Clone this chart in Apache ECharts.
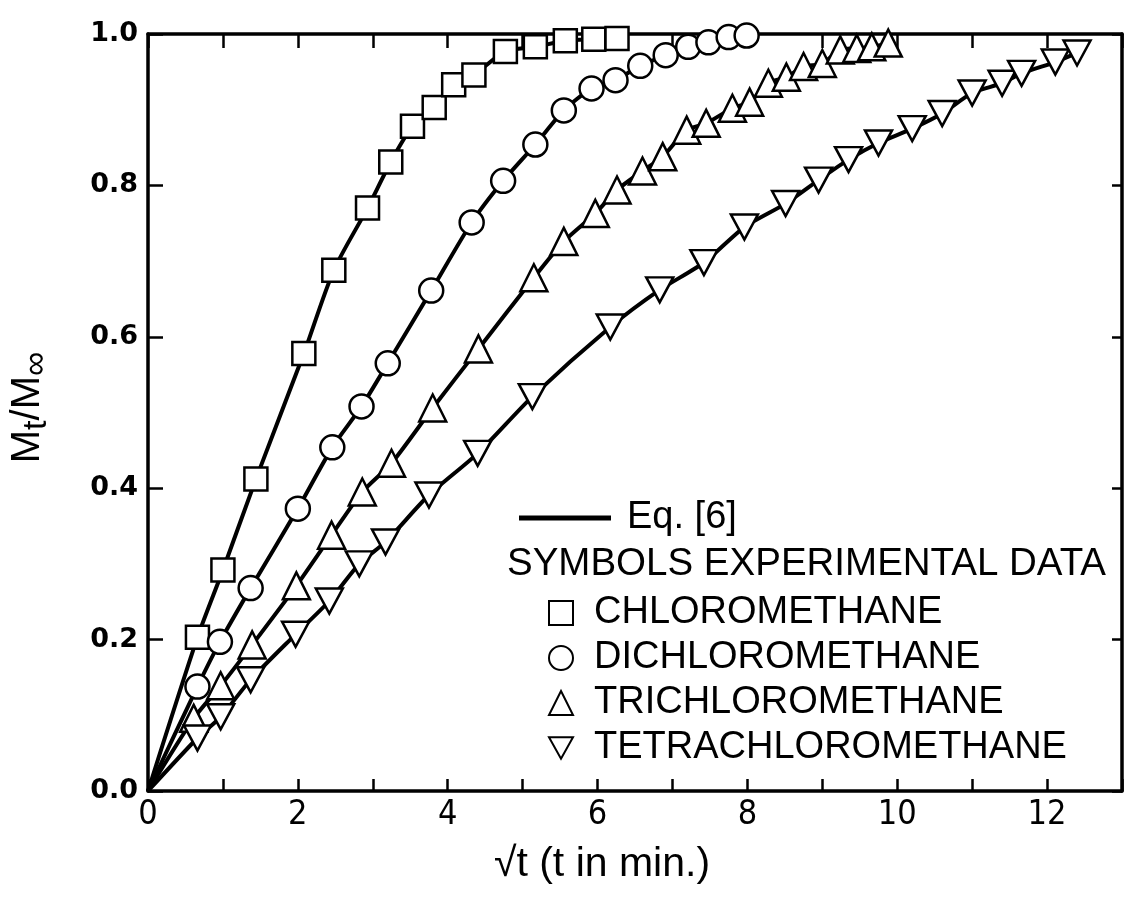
<!DOCTYPE html>
<html>
<head>
<meta charset="utf-8">
<script src="https://cdn.jsdelivr.net/npm/echarts@6/dist/echarts.min.js"></script>
<style>
html,body{margin:0;padding:0;background:#fff;}
#chart{width:1125px;height:901px;}
</style>
</head>
<body>
<div id="chart"></div>
<script>
// ---- data: x = sqrt(t), y = Mt/Minf ----
const chloroX = [0.66, 1.00, 1.44, 2.08, 2.48, 2.93, 3.24, 3.53, 3.82, 4.08, 4.35, 4.77, 5.17, 5.57, 5.95, 6.26];
const chloroY = [0.203, 0.292, 0.412, 0.578, 0.688, 0.770, 0.831, 0.878, 0.903, 0.933, 0.946, 0.977, 0.983, 0.991, 0.993, 0.994];

const dichloroX = [0.66, 0.96, 1.37, 2.00, 2.46, 2.85, 3.20, 3.78, 4.32, 4.74, 5.17, 5.55, 5.92, 6.24, 6.57, 6.91, 7.21, 7.48, 7.75, 7.99];
const dichloroY = [0.138, 0.197, 0.268, 0.373, 0.454, 0.508, 0.565, 0.661, 0.751, 0.806, 0.854, 0.899, 0.928, 0.939, 0.958, 0.972, 0.983, 0.989, 0.996, 0.998];

const trichloroX = [0.61, 0.97, 1.39, 1.98, 2.45, 2.86, 3.25, 3.80, 4.41, 5.15, 5.55, 5.97, 6.26, 6.60, 6.87, 7.19, 7.45, 7.80, 8.03, 8.28, 8.52, 8.75, 9.00, 9.24, 9.46, 9.66, 9.88];
const trichloroY = [0.096, 0.139, 0.193, 0.271, 0.338, 0.395, 0.433, 0.506, 0.584, 0.678, 0.726, 0.763, 0.794, 0.819, 0.838, 0.873, 0.882, 0.902, 0.910, 0.935, 0.943, 0.957, 0.961, 0.979, 0.981, 0.983, 0.988];

const tetrachloroX = [0.66, 0.97, 1.37, 1.97, 2.42, 2.82, 3.17, 3.75, 4.40, 5.13, 6.17, 6.83, 7.42, 7.96, 8.51, 8.95, 9.35, 9.75, 10.20, 10.60, 11.00, 11.40, 11.66, 12.11, 12.40];
const tetrachloroY = [0.070, 0.098, 0.147, 0.207, 0.251, 0.300, 0.329, 0.391, 0.446, 0.521, 0.613, 0.662, 0.698, 0.745, 0.776, 0.807, 0.834, 0.856, 0.875, 0.895, 0.922, 0.935, 0.948, 0.963, 0.975];

const seriesNames = ['CHLOROMETHANE', 'DICHLOROMETHANE', 'TRICHLOROMETHANE', 'TETRACHLOROMETHANE'];
const curveName = 'Eq. [6]';
const headerText = 'SYMBOLS EXPERIMENTAL DATA';
const xTickLabels = ['0', '2', '4', '6', '8', '10', '12'];
const yTickLabels = ['0.0', '0.2', '0.4', '0.6', '0.8', '1.0'];

// ---- build ----
const pairs = (xs, ys) => xs.map((x, i) => [x, ys[i]]);
const groups = [
  {name: seriesNames[0], data: pairs(chloroX, chloroY), symbol: 'rect', size: 23},
  {name: seriesNames[1], data: pairs(dichloroX, dichloroY), symbol: 'circle', size: 24},
  {name: seriesNames[2], data: pairs(trichloroX, trichloroY), symbol: 'triangle', size: 27},
  {name: seriesNames[3], data: pairs(tetrachloroX, tetrachloroY), symbol: 'path://M0,0 L20,0 L10,18 Z', size: [27, 25]}
];

const INK = '#000';
const narrow = "'Liberation Sans Narrow', 'DejaVu Sans Condensed', 'Liberation Sans', sans-serif";
const sans = "'Liberation Sans', Arial, sans-serif";

const series = [];
groups.forEach(g => {
  series.push({
    name: curveName, type: 'line', data: [[0, 0]].concat(g.data),
    showSymbol: false, symbol: 'none', smooth: 0.25,
    lineStyle: {color: INK, width: 4}, itemStyle: {color: INK},
    z: 2, silent: true
  });
});
groups.forEach(g => {
  series.push({
    name: g.name, type: 'scatter', data: g.data,
    symbol: g.symbol, symbolSize: g.size,
    itemStyle: {color: '#fff', borderColor: INK, borderWidth: 2.5, opacity: 1},
    z: 3
  });
});

const chart = echarts.init(document.getElementById('chart'), null, {renderer: 'canvas'});
chart.setOption({
  backgroundColor: '#fff',
  animation: false,
  grid: {left: 147, top: 34, width: 975, height: 757, show: false},
  xAxis: [
    {
      type: 'value', min: 0, max: 13, interval: 1, position: 'bottom',
      axisLine: {show: true, onZero: false, lineStyle: {color: INK, width: 3.5}},
      axisTick: {show: true, inside: true, length: 12, lineStyle: {color: INK, width: 2.5}},
      axisLabel: {
        margin: 7, color: INK, fontFamily: narrow, fontSize: 34,
        formatter: v => (xTickLabels.indexOf(String(v)) >= 0 ? String(v) : '')
      },
      splitLine: {show: false},
      name: '√t (t in min.)', nameLocation: 'middle', nameGap: 53,
      nameTextStyle: {color: INK, fontFamily: sans, fontSize: 41, padding: [0, 66, 0, 0]}
    },
    {
      type: 'value', min: 0, max: 13, interval: 1, position: 'top',
      axisLine: {show: true, onZero: false, lineStyle: {color: INK, width: 3.5}},
      axisTick: {show: true, inside: true, length: 14, lineStyle: {color: INK, width: 2.5}},
      axisLabel: {show: false}, splitLine: {show: false}
    }
  ],
  yAxis: [
    {
      type: 'value', min: 0, max: 1, interval: 0.2, position: 'left',
      axisLine: {show: true, onZero: false, lineStyle: {color: INK, width: 3.5}},
      axisTick: {show: true, inside: true, length: 15, lineStyle: {color: INK, width: 2.5}},
      axisLabel: {
        margin: 10, color: INK, fontFamily: "'DejaVu Sans', sans-serif", fontWeight: 'bold', fontSize: 27,
        formatter: v => yTickLabels[Math.round(v * 5)]
      },
      splitLine: {show: false},
      name: '{m|M}{s|t}{m|/M}{s|∞}', nameLocation: 'middle', nameGap: 94, nameRotate: 90,
      nameTextStyle: {
        color: INK, padding: [0, 0, 0, 10],
        rich: {
          m: {fontFamily: sans, fontSize: 40, color: INK},
          s: {fontFamily: sans, fontSize: 34, color: INK, padding: [18, 0, 0, 0]}
        }
      }
    },
    {
      type: 'value', min: 0, max: 1, interval: 0.2, position: 'right',
      axisLine: {show: true, onZero: false, lineStyle: {color: INK, width: 3.5}},
      axisTick: {show: true, inside: true, length: 10, lineStyle: {color: INK, width: 2.5}},
      axisLabel: {show: false}, splitLine: {show: false}
    }
  ],
  legend: [
    {
      data: [{name: curveName, icon: 'rect'}], left: 514, top: 494, orient: 'vertical',
      itemWidth: 92, itemHeight: 5, selectedMode: false,
      itemStyle: {color: INK, borderWidth: 0},
      textStyle: {color: INK, fontFamily: sans, fontSize: 38, padding: [0, 0, 0, 11]}
    },
    {
      data: seriesNames, left: 543, top: 589, orient: 'vertical',
      itemWidth: 24, itemHeight: 24, itemGap: 7, selectedMode: false,
      textStyle: {color: INK, fontFamily: sans, fontSize: 38, lineHeight: 35, padding: [0, 0, 0, 16]}
    }
  ],
  graphic: [
    {
      type: 'text', left: 507, top: 545,
      style: {text: headerText, fill: INK, font: "38.5px " + sans}
    }
  ],
  series: series
});
</script>
</body>
</html>
